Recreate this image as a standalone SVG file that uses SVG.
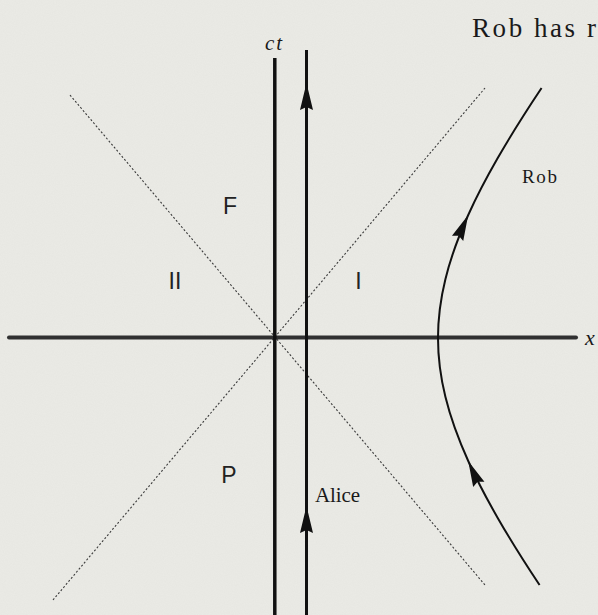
<svg xmlns="http://www.w3.org/2000/svg" xmlns:xlink="http://www.w3.org/1999/xlink" width="598" height="615" viewBox="0 0 598 615">
  <style>
    .axis { stroke: #111; fill: none; }
    .cone { stroke: #3a3a3a; stroke-width: 1.1; stroke-dasharray: 2 2; fill: none; }
    .wl { stroke: #111; fill: none; }
    .serif { font-family: "Liberation Serif", "Times New Roman", serif; fill: #1a1a1a; }
    .ital { font-family: "Liberation Serif", "Times New Roman", serif; font-style: italic; fill: #1a1a1a; }
    .region { font-family: "Liberation Sans", Arial, sans-serif; font-size: 23px; fill: #222; text-anchor: middle; }
  </style>
  <defs>
    <path id="ah" d="M0,0 L-27,-6.5 L-24,0 L-27,6.5 Z" fill="#111"/>
    <filter id="paper" x="0" y="0" width="100%" height="100%">
      <feTurbulence type="fractalNoise" baseFrequency="0.9" numOctaves="2" seed="3" result="n"/>
      <feColorMatrix in="n" type="matrix" values="0 0 0 0 0.55  0 0 0 0 0.55  0 0 0 0 0.52  0 0 0 0.12 0"/>
    </filter>
  </defs>

  <g id="background">
    <rect x="0" y="0" width="598" height="615" fill="#ebebe6"/>
    <rect x="0" y="0" width="598" height="615" filter="url(#paper)"/>
  </g>

  <g id="light-cone">
    <line class="cone" x1="70" y1="95" x2="485" y2="585"/>
    <line class="cone" x1="53" y1="600" x2="485" y2="88"/>
  </g>

  <g id="axes">
    <line x1="9" y1="337.5" x2="576" y2="337.5" stroke="#303030" stroke-width="4" stroke-linecap="round"/>
    <line class="axis" x1="274.8" y1="58" x2="274.8" y2="615" stroke-width="3.5"/>
    <text class="ital" x="265" y="50" font-size="21" textLength="17" lengthAdjust="spacing">ct</text>
    <text class="ital" x="585" y="345" font-size="22">x</text>
  </g>

  <g id="alice">
    <line class="wl" x1="306.5" y1="50" x2="306.5" y2="615" stroke-width="3"/>
    <use xlink:href="#ah" href="#ah" transform="translate(306.5,83) rotate(-90)"/>
    <use xlink:href="#ah" href="#ah" transform="translate(306.5,506) rotate(-90)"/>
    <text class="serif" x="315" y="502" font-size="21" textLength="45" lengthAdjust="spacing">Alice</text>
  </g>

  <g id="rob">
    <path class="wl" stroke-width="2" d="M539.57,585 C523.28,560.49 509.27,538.03 497.44,517.42 C485.83,497.21 476.19,478.56 468.23,461 C457.85,438.1 450.35,417.03 445.39,396.83 C440.43,376.63 438,357.32 438,338 C438,318.68 440.43,299.37 445.39,279.17 C450.35,258.97 457.85,237.9 468.23,215 C476.19,197.44 485.83,178.79 497.44,158.58 C509.79,137.07 524.35,113.79 541.55,88.02"/>
    <use xlink:href="#ah" href="#ah" transform="translate(468.2,461) rotate(-114.4) scale(0.95)"/>
    <use xlink:href="#ah" href="#ah" transform="translate(468.2,215) rotate(-65.6) scale(0.95)"/>
    <text class="serif" x="522" y="183" font-size="19" textLength="35" lengthAdjust="spacing">Rob</text>
  </g>

  <g id="regions">
    <text class="region" x="230" y="214">F</text>
    <text class="region" x="175" y="289">II</text>
    <text class="region" x="358.5" y="289">I</text>
    <text class="region" x="229" y="483">P</text>
  </g>

  <g id="title">
    <text class="serif" x="472" y="37" font-size="27" textLength="124" lengthAdjust="spacing">Rob has r</text>
  </g>
</svg>
